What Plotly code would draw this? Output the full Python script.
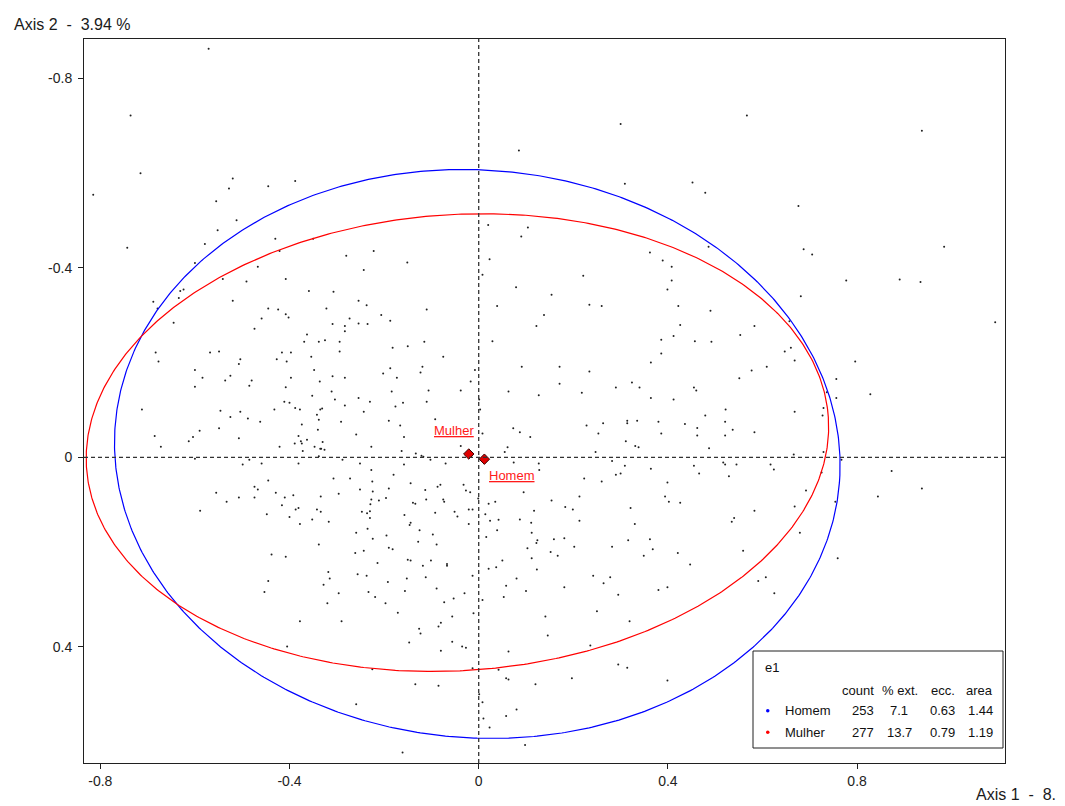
import numpy as np
import plotly.graph_objects as go

# ---------------- titles / ticks ----------------
AXIS1_TITLE = "Axis 1  -  8."
AXIS2_TITLE = "Axis 2  -  3.94 %"

x_ticks = [-0.8, -0.4, 0, 0.4, 0.8]
x_tick_labels = ["-0.8", "-0.4", "0", "0.4", "0.8"]
y_ticks = [-0.8, -0.4, 0, 0.4]
y_tick_labels = ["-0.8", "-0.4", "0", "0.4"]

# ---------------- individuals (axis 1, axis 2) ----------------
pts_upper_left = [(-0.571, -0.862), (-0.736, -0.721), (-0.715, -0.599), (-0.815, -0.554), (-0.520, -0.588),
                  (-0.528, -0.567), (-0.445, -0.572), (-0.388, -0.583), (-0.555, -0.540), (-0.512, -0.500),
                  (-0.552, -0.479), (-0.579, -0.450), (-0.743, -0.442), (-0.430, -0.461), (-0.350, -0.461),
                  (-0.421, -0.435), (-0.280, -0.425), (-0.222, -0.435), (-0.467, -0.402), (-0.243, -0.395),
                  (-0.541, -0.376), (-0.491, -0.371), (-0.408, -0.376), (-0.600, -0.410)]

pts_upper_mid = [(0.300, -0.703), (0.085, -0.647), (0.309, -0.577), (0.452, -0.580), (0.020, -0.490),
                 (0.104, -0.485), (0.090, -0.466), (-0.151, -0.411), (0.023, -0.418), (0.362, -0.432),
                 (0.389, -0.415), (0.408, -0.402), (0.408, -0.373), (0.221, -0.383), (0.008, -0.385)]

pts_upper_right = [(0.567, -0.721), (0.937, -0.689), (0.479, -0.558), (0.676, -0.530), (0.486, -0.444),
                   (0.687, -0.439), (0.705, -0.428), (0.984, -0.444), (0.777, -0.373), (0.890, -0.375),
                   (0.934, -0.370)]

pts_mid_left = [(-0.624, -0.354), (-0.631, -0.351), (-0.634, -0.336), (-0.688, -0.328), (-0.679, -0.314),
                (-0.645, -0.284), (-0.520, -0.330), (-0.359, -0.351), (-0.307, -0.349), (-0.254, -0.330),
                (-0.237, -0.321), (-0.445, -0.314), (-0.424, -0.312), (-0.408, -0.302), (-0.402, -0.295),
                (-0.459, -0.293), (-0.322, -0.314), (-0.273, -0.293), (-0.206, -0.300), (-0.187, -0.288),
                (-0.309, -0.281), (-0.283, -0.277), (-0.254, -0.282), (-0.235, -0.281), (-0.283, -0.266),
                (-0.474, -0.271), (-0.363, -0.259), (-0.369, -0.244), (-0.338, -0.244), (-0.325, -0.247),
                (-0.294, -0.244), (-0.683, -0.221), (-0.568, -0.221), (-0.549, -0.223), (-0.416, -0.221),
                (-0.397, -0.221), (-0.294, -0.223), (-0.427, -0.207), (-0.504, -0.207), (-0.507, -0.197),
                (-0.406, -0.202), (-0.354, -0.212), (-0.677, -0.202), (-0.600, -0.184), (-0.348, -0.184),
                (-0.584, -0.168), (-0.525, -0.172), (-0.536, -0.162), (-0.480, -0.162), (-0.485, -0.151),
                (-0.397, -0.168), (-0.336, -0.160), (-0.309, -0.171), (-0.283, -0.168), (-0.202, -0.177),
                (-0.187, -0.188), (-0.600, -0.149), (-0.408, -0.148), (-0.352, -0.130), (-0.311, -0.139),
                (-0.184, -0.139), (-0.411, -0.117), (-0.400, -0.115), (-0.388, -0.104), (-0.378, -0.101),
                (-0.335, -0.101), (-0.331, -0.103), (-0.304, -0.122), (-0.254, -0.125), (-0.230, -0.117),
                (-0.283, -0.109), (-0.712, -0.101), (-0.546, -0.098), (-0.504, -0.096), (-0.525, -0.085),
                (-0.488, -0.082), (-0.432, -0.101), (-0.342, -0.090), (-0.338, -0.079), (-0.243, -0.096),
                (-0.462, -0.075), (-0.374, -0.069), (-0.291, -0.075), (-0.190, -0.077), (-0.590, -0.056),
                (-0.549, -0.061), (-0.340, -0.058), (-0.685, -0.045), (-0.604, -0.043), (-0.613, -0.034),
                (-0.507, -0.040), (-0.381, -0.045), (-0.376, -0.034), (-0.363, -0.037), (-0.259, -0.048),
                (-0.672, -0.022), (-0.421, -0.022), (-0.389, -0.029), (-0.374, -0.029), (-0.372, -0.013),
                (-0.330, -0.032), (-0.347, -0.022), (-0.335, -0.018), (-0.333, -0.018), (-0.326, -0.016),
                (-0.227, -0.022), (-0.600, 0.003), (-0.485, 0.005), (-0.499, 0.015), (-0.459, 0.013),
                (-0.381, 0.013), (-0.338, -0.002), (-0.288, 0.005), (-0.251, 0.013), (-0.227, 0.027),
                (-0.445, 0.049), (-0.307, 0.045), (-0.272, 0.045), (-0.225, 0.051), (-0.474, 0.062),
                (-0.467, 0.068), (-0.251, 0.068), (-0.190, 0.066), (-0.555, 0.075), (-0.429, 0.075),
                (-0.392, 0.080), (-0.296, 0.077), (-0.224, 0.072), (-0.533, 0.094), (-0.507, 0.085),
                (-0.474, 0.085), (-0.410, 0.085), (-0.334, 0.083), (-0.227, 0.089), (-0.211, 0.091),
                (-0.196, 0.086), (-0.416, 0.101), (-0.387, 0.110), (-0.381, 0.107), (-0.342, 0.110),
                (-0.334, 0.115), (-0.229, 0.099), (-0.589, 0.113), (-0.448, 0.120), (-0.247, 0.115),
                (-0.236, 0.118), (-0.230, 0.114), (-0.400, 0.126), (-0.352, 0.131), (-0.317, 0.136),
                (-0.230, 0.128), (-0.378, 0.141)]

pts_center = [(0.079, -0.359), (0.154, -0.343), (0.039, -0.319), (0.234, -0.322), (0.260, -0.319),
              (0.399, -0.354), (0.422, -0.319), (-0.110, -0.312), (0.138, -0.300), (0.122, -0.277),
              (0.426, -0.279), (0.412, -0.256), (0.386, -0.248), (0.457, -0.245), (-0.150, -0.234),
              (-0.182, -0.231), (-0.115, -0.244), (0.029, -0.245), (-0.075, -0.212), (0.386, -0.219),
              (0.364, -0.200), (-0.119, -0.191), (-0.123, -0.179), (0.091, -0.191), (0.171, -0.191),
              (0.234, -0.181), (-0.173, -0.168), (-0.008, -0.184), (-0.017, -0.160), (0.171, -0.155),
              (0.324, -0.158), (0.340, -0.147), (0.290, -0.147), (0.455, -0.147), (0.460, -0.141),
              (-0.106, -0.141), (-0.038, -0.141), (0.063, -0.139), (0.218, -0.136), (0.127, -0.131),
              (0.364, -0.125), (0.412, -0.122), (0.001, -0.122), (-0.110, -0.117), (-0.160, -0.115),
              (-0.176, -0.107), (0.003, -0.101), (-0.092, -0.080), (0.314, -0.077), (0.314, -0.072),
              (0.335, -0.077), (0.380, -0.075), (0.436, -0.070), (0.462, -0.062), (0.263, -0.072),
              (0.228, -0.067), (-0.166, -0.067), (0.073, -0.061), (0.087, -0.053), (0.386, -0.050),
              (0.462, -0.046), (-0.158, -0.043), (0.008, -0.050), (0.109, -0.043), (0.253, -0.050),
              (0.311, -0.034), (-0.038, -0.024), (0.061, -0.021), (0.331, -0.024), (0.338, -0.021),
              (-0.163, -0.013), (0.055, -0.011), (0.247, -0.011), (-0.133, -0.008), (-0.121, -0.003),
              (-0.117, -0.001), (-0.102, 0.005), (0.282, 0.008), (-0.158, 0.015), (-0.070, 0.013),
              (0.074, 0.011), (0.127, 0.013), (0.309, 0.018), (0.455, 0.018), (-0.180, 0.037),
              (0.128, 0.027), (0.290, 0.037), (0.300, 0.034), (0.364, 0.024), (0.223, 0.045),
              (0.260, 0.051), (0.399, 0.053), (-0.144, 0.055), (-0.081, 0.058), (-0.087, 0.062),
              (-0.032, 0.058), (-0.113, 0.069), (-0.027, 0.070), (-0.018, 0.074), (0.095, 0.074),
              (0.213, 0.083), (0.394, 0.083), (-0.111, 0.089), (-0.075, 0.089), (-0.001, 0.087),
              (-0.073, 0.094), (0.035, 0.094), (0.021, 0.098), (0.154, 0.091), (0.402, 0.094),
              (0.426, 0.096), (-0.139, 0.096), (-0.134, 0.098), (0.183, 0.105), (0.199, 0.110),
              (0.321, 0.107), (-0.092, 0.117), (-0.051, 0.115), (-0.021, 0.110), (-0.013, 0.110),
              (0.117, 0.113), (0.014, 0.120), (-0.157, 0.122), (-0.045, 0.125), (0.024, 0.134),
              (0.042, 0.132), (0.087, 0.131), (0.111, 0.138), (0.213, 0.134), (0.330, 0.141),
              (-0.144, 0.138), (-0.146, 0.143), (-0.021, 0.141)]

pts_mid_right = [(0.681, -0.340), (0.490, -0.309), (1.092, -0.285), (0.583, -0.277), (0.657, -0.287),
                 (0.553, -0.258), (0.492, -0.244), (0.660, -0.231), (0.647, -0.223), (0.668, -0.204),
                 (0.796, -0.202), (0.609, -0.191), (0.577, -0.183), (0.551, -0.167), (0.756, -0.165),
                 (0.828, -0.133), (0.736, -0.137), (0.756, -0.125), (0.729, -0.104), (0.522, -0.101),
                 (0.668, -0.096), (0.727, -0.088), (0.479, -0.088), (0.537, -0.058), (0.521, -0.075),
                 (0.583, -0.053), (0.521, -0.046), (0.487, -0.019), (0.666, -0.006), (0.729, -0.011),
                 (0.767, 0.005), (0.517, 0.011), (0.521, 0.015), (0.545, 0.015), (0.617, 0.015),
                 (0.624, 0.026), (0.466, 0.034), (0.529, 0.040), (0.725, 0.032), (0.873, 0.029),
                 (0.937, 0.066), (0.692, 0.070), (0.844, 0.083), (0.754, 0.094), (0.668, 0.104),
                 (0.583, 0.113), (0.540, 0.128), (0.535, 0.136)]

pts_lower_left = [(-0.259, 0.159), (-0.235, 0.151), (-0.224, 0.172), (-0.195, 0.165), (-0.190, 0.191),
                  (-0.338, 0.184), (-0.438, 0.205), (-0.408, 0.210), (-0.261, 0.202), (-0.243, 0.197),
                  (-0.214, 0.223), (-0.318, 0.242), (-0.315, 0.256), (-0.256, 0.247), (-0.237, 0.250),
                  (-0.328, 0.269), (-0.445, 0.261), (-0.192, 0.263), (-0.453, 0.284), (-0.296, 0.287),
                  (-0.233, 0.284), (-0.219, 0.295), (-0.197, 0.308), (-0.320, 0.308), (-0.378, 0.346),
                  (-0.290, 0.346), (-0.405, 0.399), (-0.225, 0.447), (-0.259, 0.521)]

pts_lower_mid = [(-0.125, 0.154), (-0.097, 0.163), (-0.128, 0.178), (-0.089, 0.184), (0.039, 0.154),
                 (0.016, 0.168), (0.112, 0.159), (0.124, 0.175), (0.122, 0.181), (0.103, 0.192),
                 (0.159, 0.173), (0.181, 0.171), (0.152, 0.200), (0.167, 0.208), (0.202, 0.189),
                 (0.282, 0.189), (0.316, 0.175), (0.362, 0.173), (0.368, 0.194), (0.349, 0.208),
                 (0.421, 0.202), (0.447, 0.226), (-0.182, 0.194), (-0.150, 0.216), (-0.144, 0.218),
                 (-0.118, 0.229), (-0.101, 0.218), (-0.067, 0.225), (-0.067, 0.229), (-0.152, 0.256),
                 (-0.112, 0.253), (-0.013, 0.250), (0.021, 0.235), (0.037, 0.232), (0.050, 0.218),
                 (0.112, 0.213), (0.123, 0.237), (0.080, 0.256), (0.242, 0.250), (0.264, 0.266),
                 (0.278, 0.253), (0.058, 0.271), (0.181, 0.274), (0.399, 0.274), (0.380, 0.280),
                 (0.295, 0.290), (-0.156, 0.282), (-0.089, 0.277), (-0.030, 0.287), (-0.053, 0.298),
                 (-0.073, 0.306), (0.053, 0.295), (0.008, 0.301), (0.100, 0.282), (-0.171, 0.328),
                 (-0.011, 0.329), (-0.056, 0.336), (0.141, 0.336), (0.250, 0.325), (0.319, 0.346),
                 (-0.080, 0.349), (-0.085, 0.357), (-0.126, 0.362), (-0.123, 0.372), (0.146, 0.376),
                 (-0.147, 0.391), (-0.056, 0.389), (-0.035, 0.399), (-0.027, 0.402), (-0.080, 0.408),
                 (0.063, 0.410), (0.236, 0.397), (-0.013, 0.445), (0.042, 0.448), (0.295, 0.437),
                 (0.314, 0.444), (0.058, 0.466), (0.063, 0.469), (0.197, 0.466), (0.399, 0.471),
                 (0.120, 0.479), (-0.134, 0.479), (-0.085, 0.482), (0.001, 0.500), (0.008, 0.517),
                 (0.080, 0.532), (0.058, 0.546), (0.010, 0.551), (0.023, 0.570), (0.098, 0.607),
                 (-0.161, 0.623)]

pts_lower_right = [(0.679, 0.159), (0.559, 0.197), (0.759, 0.213), (0.591, 0.261), (0.607, 0.253),
                   (0.625, 0.287)]

# ---------------- categories (supplementary variable e1) ----------------
groups = ["Homem", "Mulher"]
group_colors = ["#0000ff", "#ff0000"]
mean_x = [0.012, -0.021]
mean_y = [0.004, -0.007]
# concentration ellipses: centre, semi-axes, rotation (radians)
ell_cx = [-0.003, -0.045]
ell_cy = [-0.007, -0.031]
ell_a = [0.768, 0.786]
ell_b = [0.599, 0.481]
ell_theta = [0.079, -0.068]

# legend table
legend_title = "e1"
col_headers = ["count", "% ext.", "ecc.", "area"]
count = [253, 277]
pct_ext = [7.1, 13.7]
ecc = [0.63, 0.79]
area = [1.44, 1.19]

# ---------------- layout geometry ----------------
W, H = 1065, 806
ML, MR, MT, MB = 84, 60, 39, 43
PW, PH = W - ML - MR, H - MT - MB
X_RANGE = [-0.8345, 1.1127]
Y_RANGE = [0.645, -0.8825]
FONT = "Liberation Sans, Arial, sans-serif"


def px(xp):
    return (xp - ML) / PW


def py(yp):
    return (H - MB - yp) / PH


fig = go.Figure()

all_pts = (pts_upper_left + pts_upper_mid + pts_upper_right + pts_mid_left + pts_center
           + pts_mid_right + pts_lower_left + pts_lower_mid + pts_lower_right)
fig.add_trace(go.Scatter(
    x=[p[0] for p in all_pts], y=[p[1] for p in all_pts], mode="markers",
    marker=dict(size=2, color="#202020", line=dict(width=0)),
    hoverinfo="skip", showlegend=False))

t = np.linspace(0, 2 * np.pi, 721)
for i in range(len(groups)):
    ct, st = np.cos(ell_theta[i]), np.sin(ell_theta[i])
    ex = ell_cx[i] + ell_a[i] * np.cos(t) * ct - ell_b[i] * np.sin(t) * st
    ey = ell_cy[i] + ell_a[i] * np.cos(t) * st + ell_b[i] * np.sin(t) * ct
    fig.add_trace(go.Scatter(x=ex, y=ey, mode="lines",
                             line=dict(color=group_colors[i], width=1.2),
                             hoverinfo="skip", showlegend=False))

fig.add_trace(go.Scatter(
    x=mean_x, y=mean_y, mode="markers",
    marker=dict(symbol="diamond", size=8, color="#e00000", line=dict(color="#3a0000", width=1)),
    hoverinfo="skip", showlegend=False))

shapes = [
    dict(type="line", xref="x", yref="paper", x0=0, x1=0, y0=0, y1=1,
         line=dict(color="#333333", width=1.3, dash="4px,3px"), layer="above"),
    dict(type="line", xref="paper", yref="y", x0=0, x1=1, y0=0, y1=0,
         line=dict(color="#333333", width=1.3, dash="4px,3px"), layer="above"),
    # legend box
    dict(type="rect", xref="paper", yref="paper", x0=px(753), x1=px(1003), y0=py(748), y1=py(651),
         line=dict(color="#202020", width=1), fillcolor="white", layer="above"),
]
for i in range(len(groups)):
    cy = 710.7 + 21.6 * i
    shapes.append(dict(type="circle", xref="paper", yref="paper",
                       x0=px(766), x1=px(769.5), y0=py(cy + 1.75), y1=py(cy - 1.75),
                       fillcolor=group_colors[i], line=dict(width=0), layer="above"))

ann = []
# axis titles
ann.append(dict(text=AXIS2_TITLE, xref="paper", yref="paper", x=px(12), y=py(25),
                xanchor="left", yanchor="middle", showarrow=False,
                font=dict(family=FONT, size=16, color="#1a1a1a")))
ann.append(dict(text=AXIS1_TITLE, xref="paper", yref="paper", x=px(974), y=py(795),
                xanchor="left", yanchor="middle", showarrow=False,
                font=dict(family=FONT, size=16, color="#1a1a1a")))
# category labels
label_shift = [(28, -16), (-15, 23)]
for i in range(len(groups)):
    ann.append(dict(text="<u>" + groups[i] + "</u>", x=mean_x[i], y=mean_y[i],
                    xshift=label_shift[i][0], yshift=label_shift[i][1], showarrow=False,
                    font=dict(family=FONT, size=13, color="#ff1a1a")))
# legend table
lf = dict(family=FONT, size=13, color="#111111")
ann.append(dict(text=legend_title, xref="paper", yref="paper", x=px(763), y=py(667.5),
                xanchor="left", yanchor="middle", showarrow=False, font=lf))
col_right = [876, 920, 957, 994.5]
for j, h in enumerate(col_headers):
    ann.append(dict(text=h, xref="paper", yref="paper", x=px(col_right[j]), y=py(690),
                    xanchor="right", yanchor="middle", showarrow=False, font=lf))
for i in range(len(groups)):
    yy = py(710.7 + 21.6 * i)
    ann.append(dict(text=groups[i], xref="paper", yref="paper", x=px(783), y=yy,
                    xanchor="left", yanchor="middle", showarrow=False, font=lf))
    ann.append(dict(text=str(count[i]), xref="paper", yref="paper", x=px(876), y=yy,
                    xanchor="right", yanchor="middle", showarrow=False, font=lf))
    ann.append(dict(text=f"{pct_ext[i]:.1f}", xref="paper", yref="paper", x=px(899), y=yy,
                    xanchor="center", yanchor="middle", showarrow=False, font=lf))
    ann.append(dict(text=f"{ecc[i]:.2f}", xref="paper", yref="paper", x=px(957), y=yy,
                    xanchor="right", yanchor="middle", showarrow=False, font=lf))
    ann.append(dict(text=f"{area[i]:.2f}", xref="paper", yref="paper", x=px(994.5), y=yy,
                    xanchor="right", yanchor="middle", showarrow=False, font=lf))

axis_common = dict(showgrid=False, zeroline=False, showline=True, mirror=True,
                   linecolor="#202020", linewidth=1, ticks="outside", ticklen=5,
                   tickwidth=1, tickcolor="#202020",
                   tickfont=dict(family=FONT, size=14, color="#222222"))

fig.update_layout(
    width=W, height=H, autosize=False,
    margin=dict(l=ML, r=MR, t=MT, b=MB, pad=0),
    paper_bgcolor="white", plot_bgcolor="white",
    showlegend=False,
    xaxis=dict(range=X_RANGE, tickvals=x_ticks, ticktext=x_tick_labels, **axis_common),
    yaxis=dict(range=Y_RANGE, tickvals=y_ticks, ticktext=y_tick_labels,
               ticklabelstandoff=3, **axis_common),
    shapes=shapes, annotations=ann,
    font=dict(family=FONT),
)

fig.write_html("out.html", config={"displayModeBar": False},
               post_script="document.body.style.margin='0';")
